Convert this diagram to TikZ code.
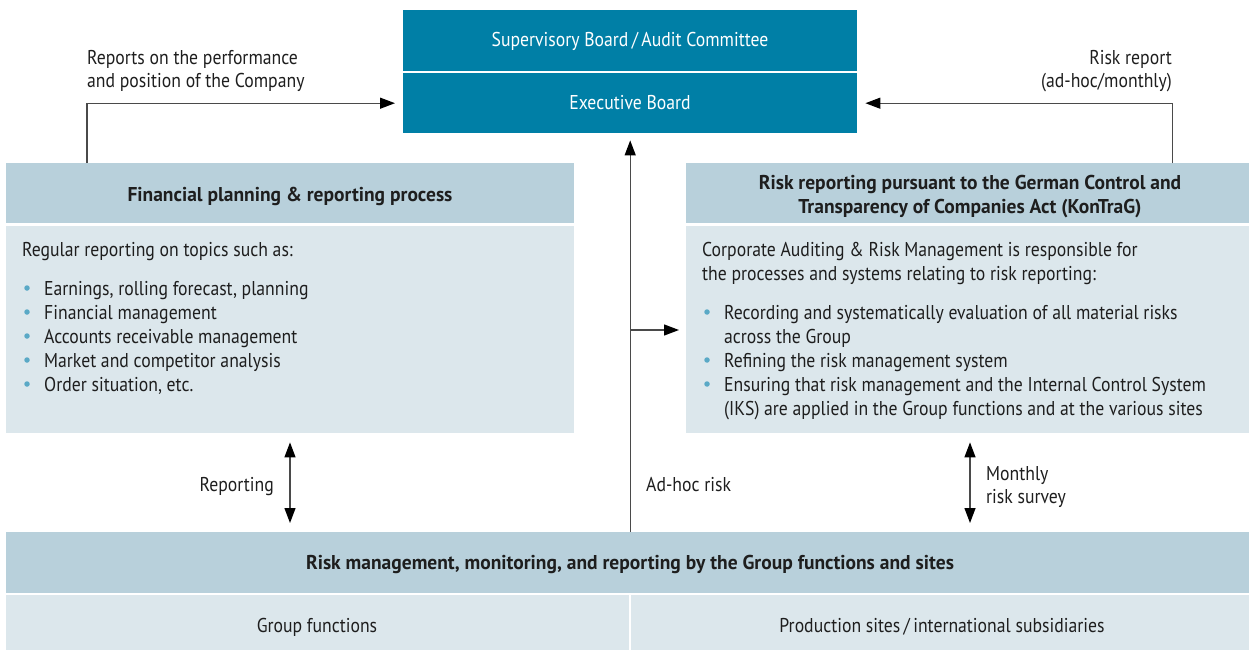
\documentclass[tikz,border=0pt]{standalone}
\usepackage{fontspec}
\setmainfont{PT Sans}[FakeStretch=0.885]
\newfontfamily\headfont{PT Sans Bold}[FakeStretch=0.975]
\usetikzlibrary{arrows.meta}

\definecolor{boardblue}{HTML}{007FA6}
\definecolor{headfill}{HTML}{B8D0DB}
\definecolor{bodyfill}{HTML}{DCE7EC}
\definecolor{dotblue}{HTML}{5AA9C6}
\definecolor{inktext}{HTML}{1E1E1E}
\definecolor{linegray}{HTML}{4A4A4A}

\tikzset{
  panel/.style={draw=none, rectangle, inner sep=0pt, anchor=north west, text=inktext},
  board/.style={panel, fill=boardblue, text=white, minimum width=454pt, minimum height=60pt},
  headbox/.style={panel, fill=headfill},
  bodybox/.style={panel, fill=bodyfill},
  txt/.style={inner sep=0pt, text=inktext},
  bold/.style={txt, font=\headfont\fontsize{20}{24}\selectfont},
  lbl/.style={txt, anchor=base west},
  lblr/.style={txt, anchor=base east},
  tip/.style={Triangle[length=15pt,width=11pt,fill=black,color=black]},
  conn/.style={draw=linegray, line width=1.3pt, -{Triangle[length=15pt,width=11pt,fill=black,color=black]}},
  dconn/.style={draw=linegray, line width=1.3pt, {Triangle[length=15pt,width=11pt,fill=black,color=black]}-{Triangle[length=15pt,width=11pt,fill=black,color=black]}},
  dot/.style={circle, fill=dotblue, inner sep=0pt, minimum size=5.5pt}
}

\begin{document}
\begin{tikzpicture}[x=1pt, y=-1pt, font=\fontsize{20}{24}\selectfont]
\useasboundingbox (0,0) rectangle (1250,650);

% board boxes
\node[board, minimum height=61pt] (sup) at (403,10) {};
\node[txt, text=white] (suptxt) at (630,41) {Supervisory Board\,/\,Audit Committee};
\node[board] (exec) at (403,73) {};
\node[txt, text=white] (exectxt) at (630,103) {Executive Board};

% financial planning panel
\node[headbox, minimum width=568pt, minimum height=60pt] (finhead) at (6,163) {};
\node[bold, anchor=base] (finttl) at (290,201) {Financial planning \& reporting process};
\node[bodybox, minimum width=568pt, minimum height=207pt] (finbody) at (6,226) {};
\node[lbl] (fin0) at (22,256) {Regular reporting on topics such as:};
\foreach \i/\t in {1/{Earnings, rolling forecast, planning},
                   2/{Financial management},
                   3/{Accounts receivable management},
                   4/{Market and competitor analysis},
                   5/{Order situation, etc.}}{
  \node[dot] (findot\i) at (27,{264+24*\i}) {};
  \node[lbl] (finitem\i) at (44,{271+24*\i}) {\t};
}

% KonTraG panel
\node[headbox, minimum width=563pt, minimum height=60pt] (konhead) at (686,163) {};
\node[bold, anchor=base] (konttl1) at (970,189) {Risk reporting pursuant to the German Control and};
\node[bold, anchor=base] (konttl2) at (970,213) {Transparency of Companies Act (KonTraG)};
\node[bodybox, minimum width=563pt, minimum height=207pt] (konbody) at (686,226) {};
\node[lbl] (kon0) at (702,256) {Corporate Auditing \& Risk Management is responsible for};
\node[lbl] (kon0b) at (702,280) {the processes and systems relating to risk reporting:};
\node[dot] (kondot1) at (707,312) {};
\node[lbl] (konitem1) at (724,319) {Recording and systematically evaluation of all material risks};
\node[lbl] (konitem1b) at (724,343) {across the Group};
\node[dot] (kondot2) at (707,360) {};
\node[lbl] (konitem2) at (724,367) {Refining the risk management system};
\node[dot] (kondot3) at (707,384) {};
\node[lbl] (konitem3) at (724,391) {Ensuring that risk management and the Internal Control System};
\node[lbl] (konitem3b) at (724,415) {(IKS) are applied in the Group functions and at the various sites};

% group level
\node[headbox, minimum width=1243pt, minimum height=61pt] (riskhead) at (6,532) {};
\node[bold, anchor=base] (riskttl) at (630,569) {Risk management, monitoring, and reporting by the Group functions and sites};
\node[bodybox, minimum width=623pt, minimum height=55pt] (grp) at (6,595) {};
\node[txt, anchor=base] (grptxt) at (317,632) {Group functions};
\node[bodybox, minimum width=618pt, minimum height=55pt] (prod) at (631,595) {};
\node[txt, anchor=base] (prodtxt) at (942,632) {Production sites\,/\,international subsidiaries};

% connector labels
\node[lbl] (perf1) at (87,65) {Reports on the performance};
\node[lbl] (perf2) at (87,88) {and position of the Company};
\node[lblr] (rr1) at (1172,65) {Risk report};
\node[lblr] (rr2) at (1172,88) {(ad-hoc/monthly)};
\node[lblr] (rep) at (274,491) {Reporting};
\node[lbl] (adhoc) at (646,491) {Ad-hoc risk};
\node[lbl] (mon1) at (986,480) {Monthly};
\node[lbl] (mon2) at (986,503) {risk survey};

% connectors
\draw[conn, shorten >=8pt] ([xshift=81pt]finhead.north west) |- (exec.west);
\draw[conn, shorten >=8pt] ([xshift=-77pt]konhead.north east) |- (exec.east);
\draw[conn, shorten >=7pt] (riskhead.north -| exec.south) -- (exec.south);
\coordinate (branch) at (630,330);
\draw[conn, shorten >=7pt] (branch) -- (branch -| konbody.west);
\draw[dconn, shorten <=9pt, shorten >=9pt] (finbody.south -| 290,0) -- (riskhead.north -| 290,0);
\draw[dconn, shorten <=9pt, shorten >=9pt] (konbody.south -| 970,0) -- (riskhead.north -| 970,0);
\end{tikzpicture}
\end{document}
